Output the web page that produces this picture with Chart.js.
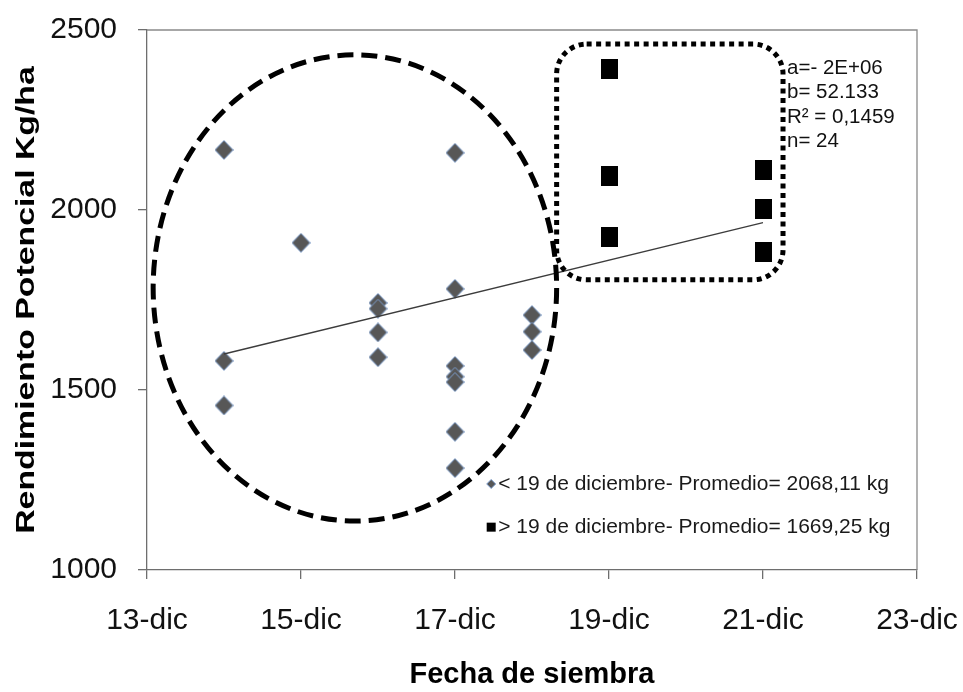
<!DOCTYPE html>
<html>
<head>
<meta charset="utf-8">
<script src="https://cdn.jsdelivr.net/npm/chart.js@4.4.1/dist/chart.umd.min.js"></script>
<style>
  html, body { margin: 0; padding: 0; background: #ffffff; }
  #wrap { width: 963px; height: 692px; position: relative; }
</style>
</head>
<body>
<div id="wrap"><canvas id="grafico"></canvas></div>
<script>
// Fecha de siembra (día de diciembre) y rendimiento potencial (kg/ha)
const diasAntes = [14, 14, 14, 15, 16, 16, 16, 16, 17, 17, 17, 17, 17, 17, 17, 18, 18, 18];
const rendAntes = [2167, 1581, 1457, 1909, 1742, 1726, 1660, 1591, 2159, 1781, 1567, 1537, 1522, 1384, 1283, 1708, 1662, 1611];
const diasDespues = [19, 19, 19, 21, 21, 21];
const rendDespues = [2393, 2095, 1926, 2110, 2003, 1882];
const nombresSeries = ['< 19 de diciembre- Promedio= 2068,11 kg', '> 19 de diciembre- Promedio= 1669,25 kg'];

// Ejes
const diasEje = [13, 15, 17, 19, 21, 23];
const etiquetasEje = ['13-dic', '15-dic', '17-dic', '19-dic', '21-dic', '23-dic'];
const valoresEjeY = [1000, 1500, 2000, 2500];
const tituloX = 'Fecha de siembra';
const tituloY = 'Rendimiento Potencial Kg/ha';

// Tendencia lineal: pendiente b (kg/ha por día) y valor al 14-dic
const pendiente = 52.133;
const tendenciaInicio = 1600;
const diasTendencia = [14, 21];
const textoAjuste = ['a=- 2E+06', 'b= 52.133', 'R² = 0,1459', 'n= 24'];

const FUENTE = '"Liberation Sans", Arial, Helvetica, sans-serif';
const GRIS_EJE = '#6e6e6e';

// Marcadores de las series
function marcaRombo(w, h, relleno, borde) {
  const c = document.createElement('canvas');
  c.width = w; c.height = h;
  const g = c.getContext('2d');
  g.beginPath();
  g.moveTo(w / 2, 0.5);
  g.lineTo(w - 0.5, h / 2);
  g.lineTo(w / 2, h - 0.5);
  g.lineTo(0.5, h / 2);
  g.closePath();
  g.fillStyle = relleno;
  g.fill();
  g.strokeStyle = borde;
  g.lineWidth = 1;
  g.stroke();
  return c;
}
function marcaCuadro(w, h, relleno) {
  const c = document.createElement('canvas');
  c.width = w; c.height = h;
  const g = c.getContext('2d');
  g.fillStyle = relleno;
  g.fillRect(0, 0, w, h);
  return c;
}

const puntosAntes = diasAntes.map((d, i) => ({ x: d, y: rendAntes[i] }));
const puntosDespues = diasDespues.map((d, i) => ({ x: d, y: rendDespues[i] }));
const puntosTendencia = diasTendencia.map(d => ({ x: d, y: tendenciaInicio + pendiente * (d - diasTendencia[0]) }));

// Anotaciones del gráfico, en unidades de los ejes
const grupoAntes = { xMin: 13.08, xMax: 18.32, yMin: 1136, yMax: 2431 };
const grupoDespues = { xMin: 18.32, xMax: 21.26, yMin: 1806, yMax: 2461, radio: 30 };
const posAjuste = { x: 21.26, y: 2394, salto: 24.5 };
const posLeyenda = { x: 17.47, y: [1239, 1119], separacion: 7 };

const estiloSeries = [
  { relleno: '#575757', borde: '#7d9fcf' },
  { relleno: '#000000' }
];

const anotaciones = {
  id: 'anotaciones',
  beforeDatasetsDraw(chart) {
    const { ctx, chartArea: a } = chart;
    ctx.save();
    ctx.strokeStyle = '#8a8a8a';
    ctx.lineWidth = 1.3;
    ctx.beginPath();
    ctx.moveTo(a.left, a.top);
    ctx.lineTo(a.right, a.top);
    ctx.lineTo(a.right, a.bottom);
    ctx.stroke();
    ctx.restore();
  },
  afterDatasetsDraw(chart) {
    const { ctx } = chart;
    const sx = chart.scales.x, sy = chart.scales.y;
    ctx.save();

    // Elipse discontinua: siembras antes del 19-dic
    const x1 = sx.getPixelForValue(grupoAntes.xMin), x2 = sx.getPixelForValue(grupoAntes.xMax);
    const y1 = sy.getPixelForValue(grupoAntes.yMax), y2 = sy.getPixelForValue(grupoAntes.yMin);
    ctx.beginPath();
    ctx.ellipse((x1 + x2) / 2, (y1 + y2) / 2, (x2 - x1) / 2, (y2 - y1) / 2, 0, 0, Math.PI * 2);
    ctx.setLineDash([16, 8]);
    ctx.lineWidth = 5;
    ctx.lineCap = 'butt';
    ctx.strokeStyle = '#000000';
    ctx.stroke();

    // Rectángulo punteado: siembras posteriores
    const bx1 = sx.getPixelForValue(grupoDespues.xMin), bx2 = sx.getPixelForValue(grupoDespues.xMax);
    const by1 = sy.getPixelForValue(grupoDespues.yMax), by2 = sy.getPixelForValue(grupoDespues.yMin);
    const r = grupoDespues.radio;
    ctx.beginPath();
    ctx.moveTo(bx1 + r, by1);
    ctx.lineTo(bx2 - r, by1);
    ctx.arcTo(bx2, by1, bx2, by1 + r, r);
    ctx.lineTo(bx2, by2 - r);
    ctx.arcTo(bx2, by2, bx2 - r, by2, r);
    ctx.lineTo(bx1 + r, by2);
    ctx.arcTo(bx1, by2, bx1, by2 - r, r);
    ctx.lineTo(bx1, by1 + r);
    ctx.arcTo(bx1, by1, bx1 + r, by1, r);
    ctx.closePath();
    ctx.setLineDash([5, 4.5]);
    ctx.lineWidth = 5;
    ctx.stroke();
    ctx.setLineDash([]);

    // Parámetros del ajuste
    ctx.fillStyle = '#111111';
    ctx.font = '20.5px ' + FUENTE;
    ctx.textAlign = 'left';
    ctx.textBaseline = 'middle';
    const tx = sx.getPixelForValue(posAjuste.x) + 4;
    const ty = sy.getPixelForValue(posAjuste.y);
    textoAjuste.forEach((t, i) => ctx.fillText(t, tx, ty + i * posAjuste.salto));

    // Leyenda dentro del área de trazado
    const lx = sx.getPixelForValue(posLeyenda.x);
    chart.data.datasets.slice(0, 2).forEach((ds, i) => {
      const ly = sy.getPixelForValue(posLeyenda.y[i]);
      const est = estiloSeries[i];
      if (i === 0) {
        ctx.beginPath();
        ctx.moveTo(lx, ly - 4.5);
        ctx.lineTo(lx + 4.5, ly);
        ctx.lineTo(lx, ly + 4.5);
        ctx.lineTo(lx - 4.5, ly);
        ctx.closePath();
        ctx.fillStyle = est.relleno;
        ctx.fill();
        ctx.strokeStyle = est.borde;
        ctx.lineWidth = 1;
        ctx.stroke();
      } else {
        ctx.fillStyle = est.relleno;
        ctx.fillRect(lx - 4.5, ly - 4.5, 9, 9);
      }
      ctx.fillStyle = '#1a1a1a';
      ctx.font = '21px ' + FUENTE;
      ctx.textBaseline = 'middle';
      ctx.fillText(ds.label, lx + posLeyenda.separacion, ly);
    });
    ctx.restore();
  },
  afterDraw(chart) {
    // Título del eje Y, alargado en la dirección del texto
    const { ctx, chartArea: a } = chart;
    ctx.save();
    ctx.translate(33.5, (a.top + a.bottom) / 2);
    ctx.rotate(-Math.PI / 2);
    ctx.scale(1.3, 1);
    ctx.font = 'bold 26px ' + FUENTE;
    ctx.fillStyle = '#000000';
    ctx.textAlign = 'center';
    ctx.textBaseline = 'alphabetic';
    ctx.fillText(tituloY, 0, 0);
    ctx.restore();
  }
};

new Chart(document.getElementById('grafico'), {
  type: 'scatter',
  data: {
    datasets: [
      {
        label: nombresSeries[0],
        data: puntosAntes,
        pointStyle: marcaRombo(19, 20, estiloSeries[0].relleno, estiloSeries[0].borde),
        pointRadius: 10,
        order: 1
      },
      {
        label: nombresSeries[1],
        data: puntosDespues,
        pointStyle: marcaCuadro(17, 20, estiloSeries[1].relleno),
        pointRadius: 10,
        order: 1
      },
      {
        type: 'line',
        label: 'Lineal',
        data: puntosTendencia,
        borderColor: '#3c3c3c',
        borderWidth: 1.3,
        pointRadius: 0,
        fill: false,
        order: 0
      }
    ]
  },
  options: {
    responsive: true,
    maintainAspectRatio: false,
    animation: false,
    events: [],
    layout: { padding: { top: 30, right: 46, left: 0, bottom: 0 } },
    plugins: { legend: { display: false }, tooltip: { enabled: false } },
    scales: {
      x: {
        type: 'linear',
        min: diasEje[0],
        max: diasEje[diasEje.length - 1],
        afterBuildTicks: s => { s.ticks = diasEje.map(v => ({ value: v })); },
        afterFit: s => { s.height = 122; s.paddingLeft = 0; s.paddingRight = 0; },
        ticks: {
          callback: v => etiquetasEje[diasEje.indexOf(v)] ?? '',
          font: { family: FUENTE, size: 30 },
          color: '#111111',
          padding: 24,
          maxRotation: 0,
          autoSkip: false
        },
        grid: { drawOnChartArea: false, drawTicks: true, tickLength: 9, color: GRIS_EJE, lineWidth: 1.3 },
        border: { display: true, color: GRIS_EJE, width: 1.3 },
        title: {
          display: true,
          text: tituloX,
          font: { family: FUENTE, size: 29, weight: 'bold' },
          color: '#000000',
          padding: { top: 0, bottom: 0 }
        }
      },
      y: {
        type: 'linear',
        min: valoresEjeY[0],
        max: valoresEjeY[valoresEjeY.length - 1],
        afterBuildTicks: s => { s.ticks = valoresEjeY.map(v => ({ value: v })); },
        afterFit: s => { s.width = 147; s.paddingTop = 0; s.paddingBottom = 0; },
        ticks: {
          callback: v => String(v),
          font: { family: FUENTE, size: 30 },
          color: '#111111',
          padding: 21
        },
        grid: { drawOnChartArea: false, drawTicks: true, tickLength: 9, color: GRIS_EJE, lineWidth: 1.3 },
        border: { display: true, color: GRIS_EJE, width: 1.3 },
        title: { display: false }
      }
    }
  },
  plugins: [anotaciones]
});
</script>
</body>
</html>
